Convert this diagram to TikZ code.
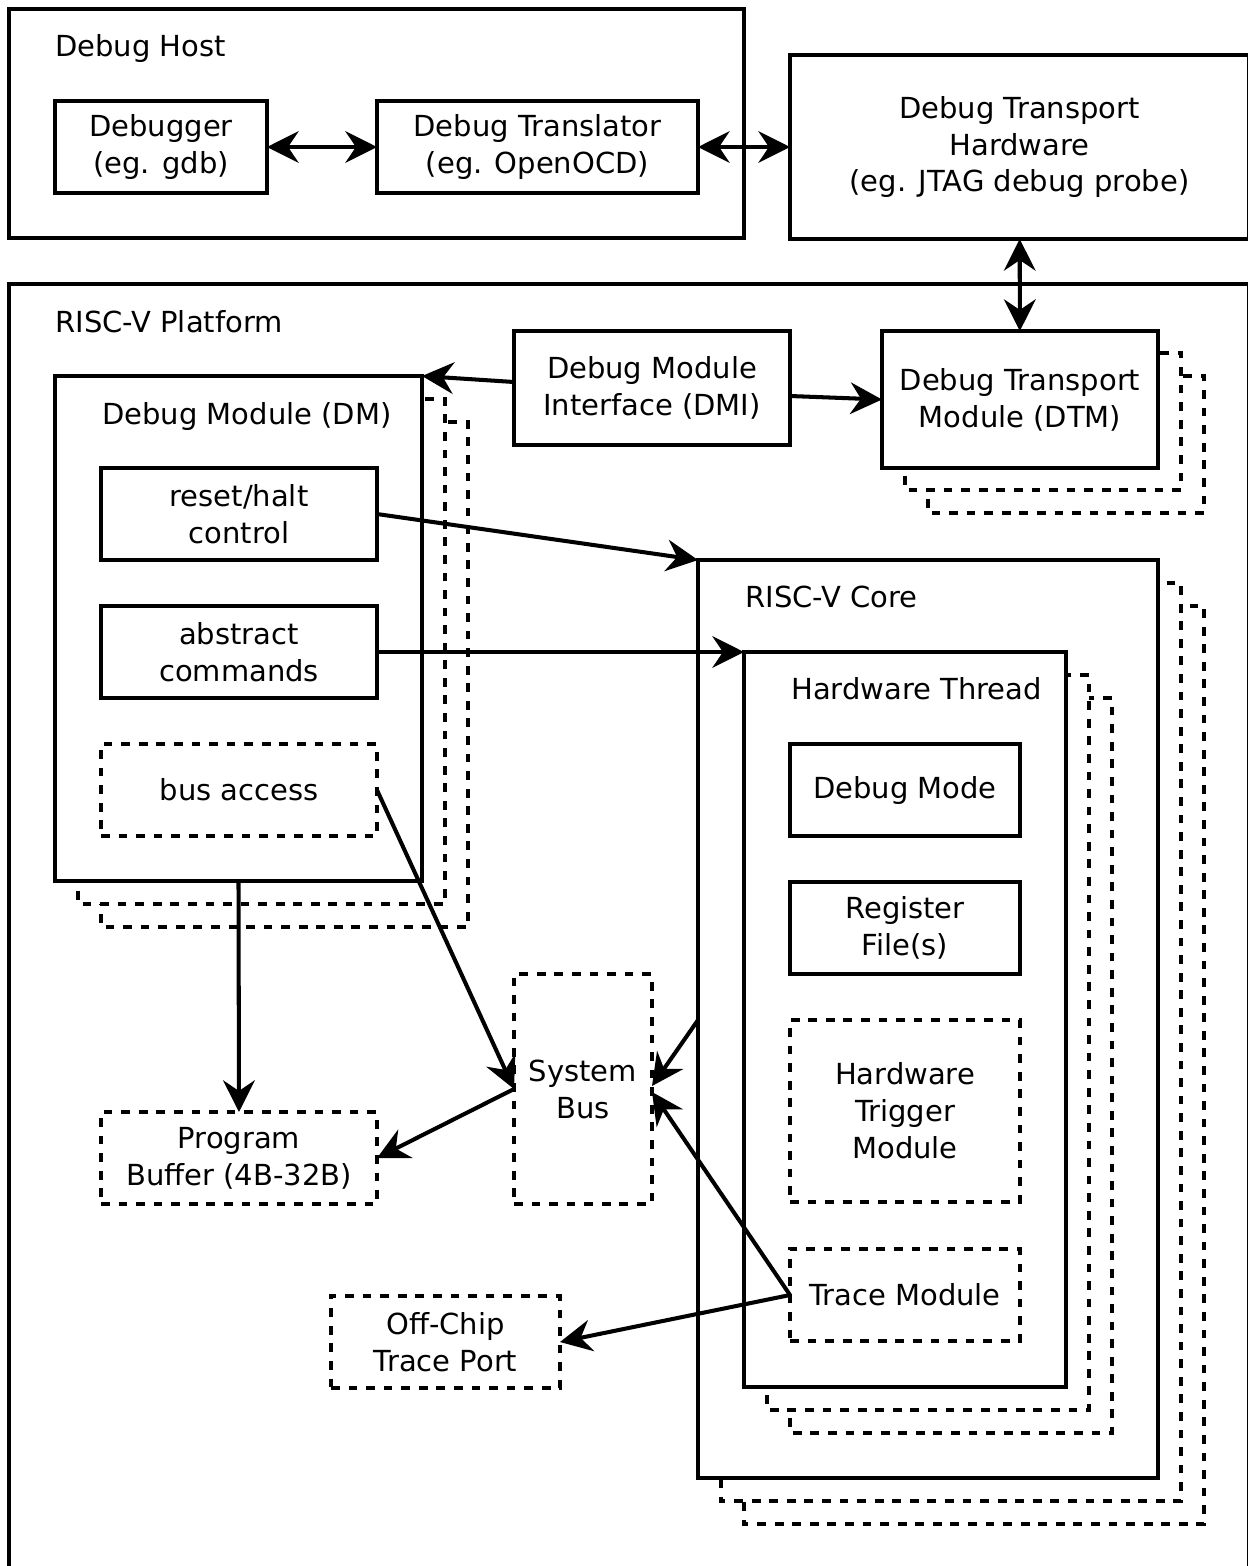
\documentclass[tikz,border=0pt]{standalone}
\usepackage{fontspec}
\setmainfont{DejaVu Sans}
\usetikzlibrary{arrows.meta}

\tikzset{
  blk/.style={draw, line width=2.3pt, fill=white, align=center, inner sep=0pt, outer sep=0pt},
  dblk/.style={blk, dash pattern=on 5pt off 5pt},
  shad/.style={line width=2.3pt, dash pattern=on 5pt off 5pt, fill=white},
  tip/.tip={Stealth[length=18pt, width=18pt, inset=6pt]},
  lnk/.style={line width=2.3pt, -tip},
  dlnk/.style={line width=2.3pt, tip-tip},
  ttl/.style={anchor=base west, inner sep=0pt},
}

\begin{document}
\begin{tikzpicture}[x=0.02cm, y=-0.02cm]

  \fontsize{16.5pt}{21pt}\selectfont

  \newcommand\PX{0.02cm}

  \useasboundingbox (0,0) rectangle (1248,1566);

  % host side
  \node[blk, minimum width=735*\PX, minimum height=229*\PX] (host) at (376.5,123.5) {};
  \node[ttl] (hostlbl) at (55,56) {Debug Host};
  \node[blk, minimum width=212*\PX, minimum height=92*\PX] (gdb) at (161,147) {Debugger\\(eg. gdb)};
  \node[blk, minimum width=321*\PX, minimum height=92*\PX] (trans) at (537.5,147) {Debug Translator\\(eg. OpenOCD)};
  \node[blk, minimum width=459*\PX, minimum height=184*\PX] (dth) at (1019.5,147) {Debug Transport\\Hardware\\(eg. JTAG debug probe)};

  % platform
  \node[blk, minimum width=1240*\PX, minimum height=1316*\PX] (plat) at (629,942) {};
  \node[ttl] (platlbl) at (55,332) {RISC-V Platform};

  \node[blk, minimum width=276*\PX, minimum height=114*\PX] (dmi) at (652,388) {Debug Module\\Interface (DMI)};

  \draw[shad] (928,376) rectangle (1204,513);
  \draw[shad] (905,353) rectangle (1181,490);
  \node[blk, minimum width=276*\PX, minimum height=137*\PX] (dtm) at (1020,399.5) {Debug Transport\\Module (DTM)};

  % debug module
  \draw[shad] (101,422) rectangle (468,927);
  \draw[shad] (78,399) rectangle (445,904);
  \node[blk, minimum width=367*\PX, minimum height=505*\PX] (dm) at (238.5,628.5) {};
  \node[ttl] (dmlbl) at (102,424) {Debug Module (DM)};
  \node[blk, minimum width=276*\PX, minimum height=92*\PX] (rst) at (239,514) {reset/halt\\control};
  \node[blk, minimum width=276*\PX, minimum height=92*\PX] (abs) at (239,652) {abstract\\commands};
  \node[dblk, minimum width=276*\PX, minimum height=92*\PX] (busacc) at (239,790) {bus access};

  \node[dblk, minimum width=276*\PX, minimum height=92*\PX] (pbuf) at (239,1158) {Program\\Buffer (4B-32B)};
  \node[dblk, minimum width=138*\PX, minimum height=230*\PX] (bus) at (583,1089) {System\\Bus};
  \node[dblk, minimum width=229*\PX, minimum height=92*\PX] (port) at (445.5,1342) {Off-Chip\\Trace Port};

  % core
  \draw[shad] (744,606) rectangle (1204,1524);
  \draw[shad] (721,583) rectangle (1181,1501);
  \node[blk, minimum width=460*\PX, minimum height=918*\PX] (core) at (928,1019) {};
  \node[ttl] (corelbl) at (745,607) {RISC-V Core};

  \draw[shad] (790,698) rectangle (1112,1433);
  \draw[shad] (767,675) rectangle (1089,1410);
  \node[blk, minimum width=322*\PX, minimum height=735*\PX] (thread) at (905,1019.5) {};
  \node[ttl] (threadlbl) at (791,699) {Hardware Thread};

  \node[blk, minimum width=230*\PX, minimum height=92*\PX] (dmode) at (905,790) {Debug Mode};
  \node[blk, minimum width=230*\PX, minimum height=92*\PX] (regf) at (905,928) {Register\\File(s)};
  \node[dblk, minimum width=230*\PX, minimum height=182*\PX] (trig) at (905,1111) {Hardware\\Trigger\\Module};
  \node[dblk, minimum width=230*\PX, minimum height=92*\PX] (trace) at (905,1295) {Trace Module};

  % links
  \draw[dlnk] (gdb) -- (trans);
  \draw[dlnk] (trans) -- (dth.west |- trans);
  \draw[dlnk] (dth) -- (dtm);
  \draw[lnk] ([yshift=0.12cm]dmi.west) -- (dm.north east);
  \draw[lnk] ([yshift=-0.16cm]dmi.east) -- (dtm.west);
  \draw[lnk] (rst.east) -- (core.north west);
  \draw[lnk] (abs.east) -- (thread.north west);
  \draw[lnk] (busacc.east) -- (bus.west);
  \draw[lnk] (dm.south) -- (pbuf.north);
  \draw[lnk] (bus.west) -- (pbuf.east);
  \draw[lnk] (core.west |- trig.north) -- ([yshift=0.06cm]bus.east);
  \draw[lnk] (trace.west) -- ([yshift=-0.06cm]bus.east);
  \draw[lnk] (trace.west) -- (port.east);

\end{tikzpicture}
\end{document}
